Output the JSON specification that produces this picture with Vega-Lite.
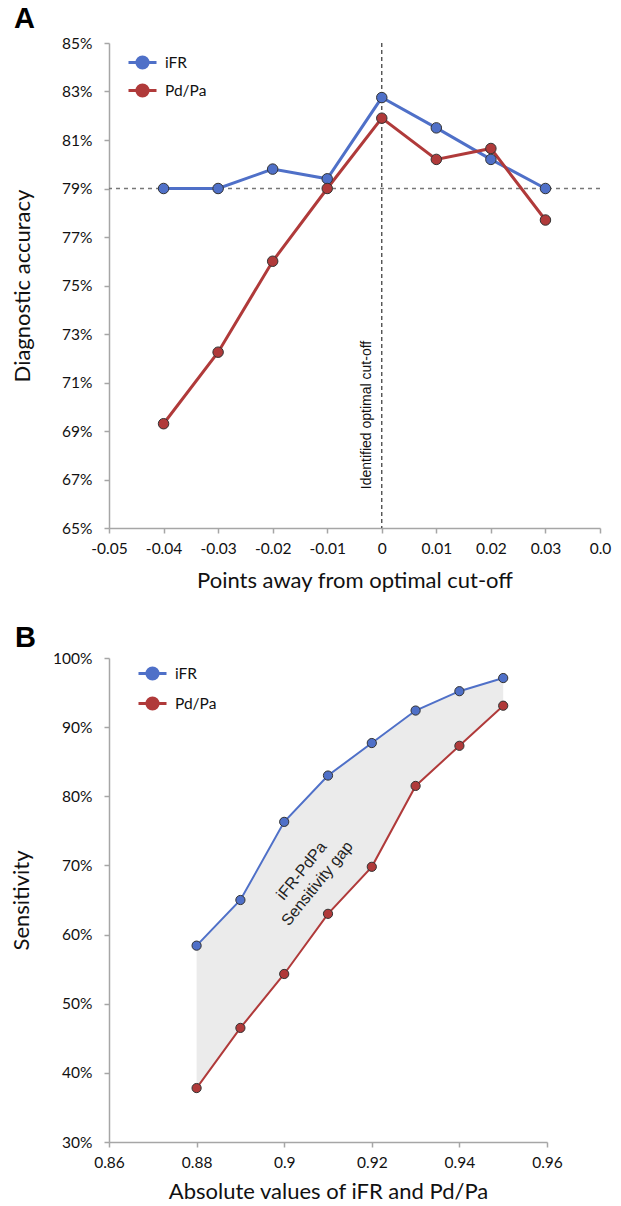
{
  "$schema": "https://vega.github.io/schema/vega-lite/v6.json",
  "background": "white",
  "padding": {"left": 10, "top": 5, "right": 5, "bottom": 5},
  "config": {
    "font": "Lato",
    "view": {"stroke": null},
    "axis": {"grid": false, "domainColor": "#a6a6a6", "domainWidth": 1.5, "tickColor": "#a6a6a6", "tickWidth": 1.5, "tickSize": 5, "labelFont": "Lato", "labelFontSize": 15.5, "labelColor": "#111", "labelOverlap": false, "labelFlush": false, "titleFont": "Lato", "titleFontSize": 22, "titleFontWeight": "normal", "titleColor": "#111"},
    "axisY": {"labelPadding": 12, "titlePadding": 19},
    "axisX": {"labelPadding": 8, "titlePadding": 12},
    "legend": {"title": null, "symbolType": "M-1,0L1,0M-0.4,0A0.4,0.4,0,1,1,0.4,0A0.4,0.4,0,1,1,-0.4,0Z", "symbolSize": 784, "symbolStrokeWidth": 3, "labelFont": "Lato", "labelFontSize": 15.5, "labelColor": "#111", "labelOffset": 7, "rowPadding": 0, "padding": 0},
    "title": {"font": "Liberation Sans", "fontSize": 29, "fontWeight": "bold", "anchor": "start", "frame": "group", "color": "#000"}
  },
  "datasets": {
    "accuracy": [
      {"x": -0.04, "series": "iFR", "value": 79.0},
      {"x": -0.03, "series": "iFR", "value": 79.0},
      {"x": -0.02, "series": "iFR", "value": 79.8},
      {"x": -0.01, "series": "iFR", "value": 79.4},
      {"x": 0, "series": "iFR", "value": 82.75},
      {"x": 0.01, "series": "iFR", "value": 81.5},
      {"x": 0.02, "series": "iFR", "value": 80.2},
      {"x": 0.03, "series": "iFR", "value": 79.0},
      {"x": -0.04, "series": "Pd/Pa", "value": 69.3},
      {"x": -0.03, "series": "Pd/Pa", "value": 72.25},
      {"x": -0.02, "series": "Pd/Pa", "value": 76.0},
      {"x": -0.01, "series": "Pd/Pa", "value": 79.0},
      {"x": 0, "series": "Pd/Pa", "value": 81.9},
      {"x": 0.01, "series": "Pd/Pa", "value": 80.2},
      {"x": 0.02, "series": "Pd/Pa", "value": 80.65},
      {"x": 0.03, "series": "Pd/Pa", "value": 77.7}
    ],
    "sensitivity": [
      {"x": 0.88, "series": "iFR", "value": 58.4},
      {"x": 0.89, "series": "iFR", "value": 65.0},
      {"x": 0.90, "series": "iFR", "value": 76.3},
      {"x": 0.91, "series": "iFR", "value": 83.0},
      {"x": 0.92, "series": "iFR", "value": 87.7},
      {"x": 0.93, "series": "iFR", "value": 92.4},
      {"x": 0.94, "series": "iFR", "value": 95.2},
      {"x": 0.95, "series": "iFR", "value": 97.1},
      {"x": 0.88, "series": "Pd/Pa", "value": 37.8},
      {"x": 0.89, "series": "Pd/Pa", "value": 46.5},
      {"x": 0.90, "series": "Pd/Pa", "value": 54.3},
      {"x": 0.91, "series": "Pd/Pa", "value": 63.0},
      {"x": 0.92, "series": "Pd/Pa", "value": 69.8},
      {"x": 0.93, "series": "Pd/Pa", "value": 81.5},
      {"x": 0.94, "series": "Pd/Pa", "value": 87.3},
      {"x": 0.95, "series": "Pd/Pa", "value": 93.1}
    ]
  },
  "spacing": 32,
  "resolve": {"scale": {"color": "independent"}, "legend": {"color": "independent"}},
  "vconcat": [
    {
      "title": {"text": "A", "dx": -95, "dy": 0, "offset": 2},
      "width": 491,
      "height": 485,
      "layer": [
        {
          "data": {"name": "accuracy"},
          "mark": {"type": "line", "strokeWidth": 3, "opacity": 0},
          "encoding": {
            "x": {"field": "x", "type": "quantitative", "scale": {"domain": [-0.05, 0.04], "nice": false, "zero": false}, "axis": {"title": "Points away from optimal cut-off", "titlePadding": 14, "values": [-0.05, -0.04, -0.03, -0.02, -0.01, 0, 0.01, 0.02, 0.03, 0.04], "labelExpr": "datum.value > 0.035 ? '0.0' : (datum.value < 0 ? '-' : '') + format(abs(datum.value), '.2~f')"}},
            "y": {"field": "value", "type": "quantitative", "scale": {"domain": [65, 85], "nice": false, "zero": false}, "axis": {"title": "Diagnostic accuracy", "titlePadding": 27, "values": [65, 67, 69, 71, 73, 75, 77, 79, 81, 83, 85], "labelExpr": "datum.value + '%'"}}
          }
        },
        {
          "data": {"values": [{}]},
          "mark": {"type": "rule", "strokeDash": [4, 4], "color": "#777", "strokeWidth": 1.5},
          "encoding": {"y": {"datum": 79}}
        },
        {
          "data": {"values": [{}]},
          "mark": {"type": "rule", "strokeDash": [4, 3], "color": "#333", "strokeWidth": 1.2},
          "encoding": {"x": {"datum": 0}}
        },
        {
          "data": {"values": [{}]},
          "mark": {"type": "text", "text": "Identified optimal  cut-off", "angle": 270, "dy": -15, "align": "center", "baseline": "middle", "fontSize": 14, "font": "Liberation Sans", "color": "#111"},
          "encoding": {"x": {"datum": 0}, "y": {"datum": 69.66}}
        },
        {
          "data": {"name": "accuracy"},
          "mark": {"type": "line", "strokeWidth": 3},
          "encoding": {
            "x": {"field": "x", "type": "quantitative"},
            "y": {"field": "value", "type": "quantitative"},
            "color": {"field": "series", "type": "nominal", "scale": {"domain": ["iFR", "Pd/Pa"], "range": ["#4f70c8", "#b03a3a"]}, "legend": {"orient": "none", "legendX": 18, "legendY": 4, "rowPadding": -1}}
          }
        },
        {
          "data": {"name": "accuracy"},
          "mark": {"type": "point", "filled": true, "size": 110, "stroke": "#333", "strokeWidth": 1, "opacity": 1},
          "encoding": {
            "x": {"field": "x", "type": "quantitative"},
            "y": {"field": "value", "type": "quantitative"},
            "color": {"field": "series", "type": "nominal"}
          }
        }
      ]
    },
    {
      "title": {"text": "B", "dx": -94, "dy": 4, "offset": 2},
      "width": 438,
      "height": 484,
      "layer": [
        {
          "data": {"name": "sensitivity"},
          "transform": [{"pivot": "series", "value": "value", "groupby": ["x"]}],
          "mark": {"type": "area", "color": "#ebebeb", "opacity": 1},
          "encoding": {
            "x": {"field": "x", "type": "quantitative", "scale": {"domain": [0.86, 0.96], "nice": false, "zero": false}, "axis": {"title": "Absolute values of iFR and Pd/Pa", "titlePadding": 11, "values": [0.86, 0.88, 0.9, 0.92, 0.94, 0.96], "format": ".2~f"}},
            "y": {"field": "iFR", "type": "quantitative", "scale": {"domain": [30, 100], "nice": false, "zero": false}, "axis": {"title": "Sensitivity", "titlePadding": 19, "values": [30, 40, 50, 60, 70, 80, 90, 100], "labelExpr": "datum.value + '%'"}},
            "y2": {"field": "Pd/Pa"}
          }
        },
        {
          "data": {"values": [{}]},
          "mark": {"type": "text", "text": ["iFR-PdPa", "Sensitivity gap"], "angle": 309, "align": "center", "baseline": "middle", "fontSize": 16, "lineHeight": 20, "font": "Liberation Sans", "color": "#222"},
          "encoding": {"x": {"datum": 0.904}, "y": {"datum": 69.2}}
        },
        {
          "data": {"name": "sensitivity"},
          "mark": {"type": "line", "strokeWidth": 2},
          "encoding": {
            "x": {"field": "x", "type": "quantitative"},
            "y": {"field": "value", "type": "quantitative"},
            "color": {"field": "series", "type": "nominal", "scale": {"domain": ["iFR", "Pd/Pa"], "range": ["#4f70c8", "#b03a3a"]}, "legend": {"orient": "none", "legendX": 28, "legendY": 0, "rowPadding": 2}}
          }
        },
        {
          "data": {"name": "sensitivity"},
          "mark": {"type": "point", "filled": true, "size": 85, "stroke": "#333", "strokeWidth": 1, "opacity": 1},
          "encoding": {
            "x": {"field": "x", "type": "quantitative"},
            "y": {"field": "value", "type": "quantitative"},
            "color": {"field": "series", "type": "nominal"}
          }
        }
      ]
    }
  ]
}
